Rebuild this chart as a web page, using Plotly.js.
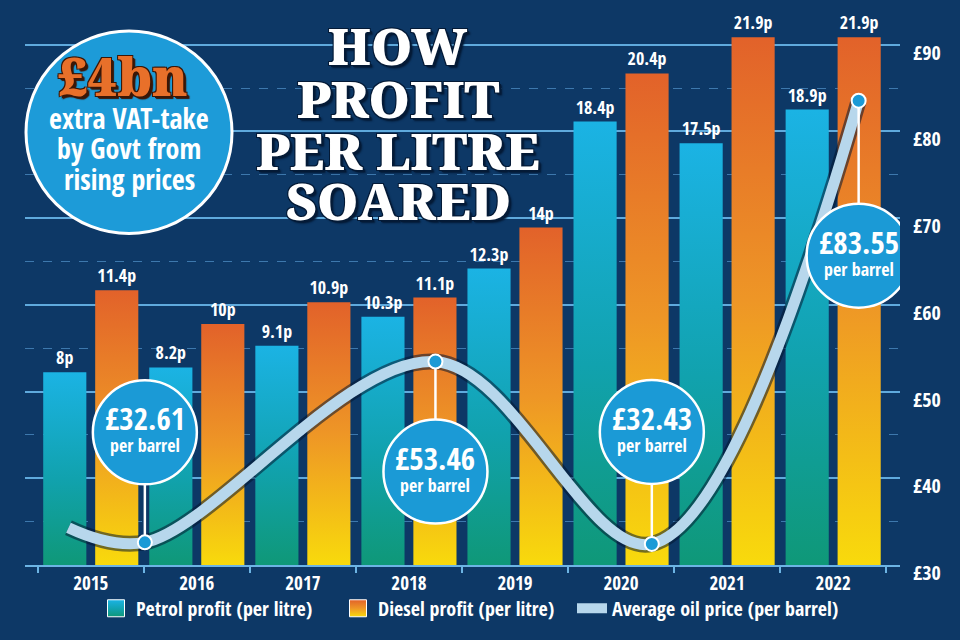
<!DOCTYPE html>
<html><head><meta charset="utf-8">
<script src="https://cdn.plot.ly/plotly-3.0.1.min.js"></script>
<style>html,body{margin:0;padding:0;background:#0d3866;} #chart{width:960px;height:640px;}</style>
</head><body><div id="chart"></div>
<script>
// ---- data ----
const years = ['2015','2016','2017','2018','2019','2020','2021','2022'];
const petrolProfit = [8, 8.2, 9.1, 10.3, 12.3, 18.4, 17.5, 18.9];
const dieselProfit = [11.4, 10, 10.9, 11.1, 14, 20.4, 21.9, 21.9];
const oilTime = [2014.79, 2015.51, 2018.25, 2020.29, 2022.24];
const oilPrice = [34.3, 32.61, 53.46, 32.43, 83.55];
const oilLabelIdx = [1, 2, 3, 4];
const priceTicks = [30, 40, 50, 60, 70, 80, 90];
const seriesNames = ['Petrol profit (per litre)', 'Diesel profit (per litre)', 'Average oil price (per barrel)'];
const headline = ['HOW', 'PROFIT', 'PER LITRE', 'SOARED'];
const badgeBig = '£4bn';
const badgeLines = ['extra VAT-take', 'by Govt from', 'rising prices'];

// ---- style ----
const SANS = "'Open Sans Condensed', 'Roboto Condensed', sans-serif";
const SERIF = "'Noto Serif', 'DejaVu Serif', serif";
const ML = 25, MT = 30, PW = 875, PH = 544;
const PX = x => (x - ML) / PW;
const PY = y => (MT + PH - y) / PH;
const BLUE = '#1b9ad6';

const pLabels = petrolProfit.map(v => v + 'p');
const dLabels = dieselProfit.map(v => v + 'p');

const data = [
  {type:'bar', name:seriesNames[0], x:years, y:petrolProfit, text:pLabels,
   textposition:'outside', textangle:0, constraintext:'none', cliponaxis:false,
   textfont:{family:SANS, size:18, color:'#fff', weight:800},
   marker:{color:'#17a6bc', line:{width:0}}, xaxis:'x', yaxis:'y'},
  {type:'bar', name:seriesNames[1], x:years, y:dieselProfit, text:dLabels,
   textposition:'outside', textangle:0, constraintext:'none', cliponaxis:false,
   textfont:{family:SANS, size:18, color:'#fff', weight:800},
   marker:{color:'#ee9a24', line:{width:0}}, xaxis:'x', yaxis:'y'},
  {type:'scatter', mode:'lines', x:oilTime, y:oilPrice, xaxis:'x2', yaxis:'y2',
   line:{shape:'spline', color:'rgba(4,22,48,0.55)', width:16}, showlegend:false, hoverinfo:'skip', cliponaxis:false},
  {type:'scatter', mode:'lines', name:seriesNames[2], x:oilTime, y:oilPrice, xaxis:'x2', yaxis:'y2',
   line:{shape:'spline', color:'#b7d7ec', width:11}, cliponaxis:false, legend:'legend2'},
  {type:'scatter', mode:'markers', x:oilLabelIdx.map(i=>oilTime[i]), y:oilLabelIdx.map(i=>oilPrice[i]),
   xaxis:'x2', yaxis:'y2', showlegend:false, cliponaxis:false,
   marker:{size:14, color:BLUE, line:{color:'#fff', width:2}}}
];

// callouts: offset of circle centre from marker (px, up positive)
const calloutOffset = [110, -110, 112, -155];
const R = 52;
const shapes = [];
const annotations = [];
const ann = o => Object.assign({showarrow:false, xanchor:'center', yanchor:'middle'}, o);
oilLabelIdx.forEach((i, k) => {
  const off = calloutOffset[k];
  const base = {xref:'x2', yref:'y2', xsizemode:'pixel', ysizemode:'pixel', xanchor:oilTime[i], yanchor:oilPrice[i]};
  const stemStart = off > 0 ? 7 : -7;
  const stemEnd = off > 0 ? off - R : off + R;
  shapes.push(Object.assign({type:'line', x0:0, x1:0, y0:stemStart, y1:stemEnd, line:{color:'#fff', width:2.5}}, base));
  shapes.push(Object.assign({type:'circle', x0:-R, x1:R, y0:off-R, y1:off+R, fillcolor:BLUE, line:{color:'#fff', width:2.5}}, base));
  annotations.push(ann({xref:'x2', yref:'y2', x:oilTime[i], y:oilPrice[i], yshift:off+14,
    text:'£' + oilPrice[i].toFixed(2), font:{family:SANS, size:31, color:'#fff', weight:800}}));
  annotations.push(ann({xref:'x2', yref:'y2', x:oilTime[i], y:oilPrice[i], yshift:off-13,
    text:'per barrel', font:{family:SANS, size:18, color:'#fff', weight:800}}));
});

// badge
shapes.push({type:'circle', xref:'paper', yref:'paper', x0:PX(26), x1:PX(232), y0:PY(237), y1:PY(31),
  fillcolor:'#1d9bd8', line:{color:'#fff', width:3}});
annotations.push(ann({xref:'paper', yref:'paper', x:PX(123), y:PY(76), text:badgeBig,
  font:{family:SERIF, size:52, color:'#e8702a', weight:900,
  shadow:'-1px -1px 0 #3b1707, 1px -1px 0 #3b1707, -1px 1px 0 #3b1707, 2px 2px 0 #3b1707, 3px 3px 1px #3b1707'}}));
const badgeY = [119, 150, 181];
badgeLines.forEach((t, k) => annotations.push(ann({xref:'paper', yref:'paper', x:PX(129), y:PY(badgeY[k]),
  text:t, font:{family:SANS, size:28, color:'#fff', weight:800}})));

// headline
const headY = [45, 99, 152, 203];
headline.forEach((t, k) => annotations.push(ann({xref:'paper', yref:'paper', x:PX(398), y:PY(headY[k]),
  text:t, font:{family:SERIF, size:51, color:'#fff', weight:900,
  shadow:'2px 2px 0 #041a36, -1px -1px 0 #041a36, 1px -1px 0 #041a36, -1px 1px 0 #041a36, 3px 3px 2px #041a36'}})));

const legendFont = {family:SANS, size:20, color:'#fff', weight:800};
const layout = {
  width:960, height:640,
  paper_bgcolor:'#0d3866', plot_bgcolor:'rgba(0,0,0,0)',
  margin:{l:ML, r:960-ML-PW, t:MT, b:640-MT-PH, pad:0},
  barmode:'group', bargap:0.02, bargroupgap:0.17,
  font:{family:SANS, color:'#fff'},
  showlegend:true,
  legend:{orientation:'h', x:PX(96), xanchor:'left', y:PY(618), yanchor:'middle',
    entrywidth:197, entrywidthmode:'pixels', itemwidth:30, bgcolor:'rgba(0,0,0,0)', font:legendFont},
  legend2:{orientation:'h', x:PX(572), xanchor:'left', y:PY(618), yanchor:'middle',
    itemwidth:30, bgcolor:'rgba(0,0,0,0)', font:legendFont},
  xaxis:{type:'category', range:[-0.62, 7.63], tickson:'boundaries', ticks:'outside', ticklen:6,
    tickcolor:'#6cb4e4', tickwidth:2, showline:true, linecolor:'#6cb4e4', linewidth:2,
    showgrid:false, zeroline:false, tickfont:{family:SANS, size:19, color:'#fff', weight:800}},
  yaxis:{range:[0, 22.2], visible:false, fixedrange:true},
  xaxis2:{overlaying:'x', range:[2014.38, 2022.63], visible:false},
  yaxis2:{overlaying:'y', side:'right', anchor:'x2', range:[30, 30 + PH/8.817],
    tickvals:priceTicks, ticktext:priceTicks.map(v=>'£'+v), ticks:'', showline:false, zeroline:false,
    showgrid:true, gridcolor:'#5faadd', gridwidth:2,
    minor:{dtick:5, tick0:35, showgrid:true, gridcolor:'#3d78ad', griddash:'dash', gridwidth:1},
    tickfont:{family:SANS, size:20, color:'#fff', weight:800}, ticklabelstandoff:12, ticklabelshift:8},
  shapes:shapes, annotations:annotations
};

Plotly.newPlot('chart', data, layout, {staticPlot:true}).then(gd => {
  const NS = 'http://www.w3.org/2000/svg';
  const svg = gd.querySelector('svg.main-svg');
  let defs = svg.querySelector('defs');
  if (!defs) { defs = document.createElementNS(NS, 'defs'); svg.insertBefore(defs, svg.firstChild); }
  function grad(id, stops) {
    const g = document.createElementNS(NS, 'linearGradient');
    g.setAttribute('id', id); g.setAttribute('x1', '0'); g.setAttribute('y1', '0');
    g.setAttribute('x2', '0'); g.setAttribute('y2', '1');
    stops.forEach(([o, c]) => { const s = document.createElementNS(NS, 'stop');
      s.setAttribute('offset', o); s.setAttribute('stop-color', c); g.appendChild(s); });
    defs.appendChild(g);
  }
  grad('gPetrol', [[0, '#1bb3e4'], [0.55, '#11a2ae'], [1, '#0f9878']]);
  grad('gDiesel', [[0, '#e2622a'], [0.5, '#ee9626'], [1, '#f8da0c']]);
  const bars = gd.querySelectorAll('.barlayer .trace');
  if (bars[0]) bars[0].querySelectorAll('path').forEach(p => p.style.fill = 'url(#gPetrol)');
  if (bars[1]) bars[1].querySelectorAll('path').forEach(p => p.style.fill = 'url(#gDiesel)');
  const leg = gd.querySelectorAll('.legend .traces');
  const ids = ['gPetrol', 'gDiesel'];
  leg.forEach((t, k) => {
    if (k < 2) t.querySelectorAll('.legendpoints path').forEach(p => {
      p.style.fill = 'url(#' + ids[k] + ')'; p.style.stroke = '#ffffff'; p.style.strokeWidth = '1px';
      p.setAttribute('d', 'M8.5,8.5H-8.5V-8.5H8.5Z'); });
  });
  gd.querySelectorAll('.annotation-text').forEach(t => {
    if ((t.style.fontFamily || '').indexOf('Noto Serif') >= 0) t.style.fontStretch = 'condensed';
  });
});
</script>
</body></html>
